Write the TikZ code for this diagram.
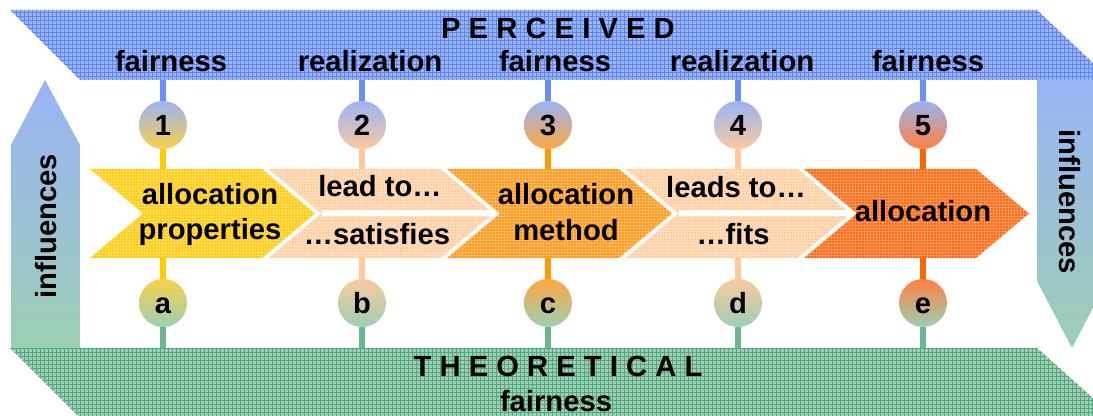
\documentclass[tikz,border=0pt]{standalone}
\usepackage{fontspec}
\setmainfont{Liberation Sans}
\definecolor{blueF}{HTML}{9BB5F6}
\definecolor{blueL}{HTML}{5F85F2}
\definecolor{blueC}{HTML}{6A8EF5}
\definecolor{blueA}{HTML}{9AB3F6}
\definecolor{greenF}{HTML}{9DCFB3}
\definecolor{greenL}{HTML}{55A680}
\definecolor{greenC}{HTML}{6CB690}
\definecolor{greenA}{HTML}{9CCFB4}
\definecolor{cyel}{HTML}{FFCC11}
\definecolor{cpeach}{HTML}{FFCFA2}
\definecolor{corange}{HTML}{FF9A1A}
\definecolor{cdark}{HTML}{FF6A12}
\definecolor{lyel}{HTML}{FFCC00}
\definecolor{lpeach}{HTML}{FFC999}
\definecolor{lorange}{HTML}{FF9900}
\definecolor{ldark}{HTML}{FF6600}
\definecolor{byel}{HTML}{FAD04A}
\definecolor{bpeach}{HTML}{FCC9A0}
\definecolor{borange}{HTML}{FFA840}
\definecolor{bdark}{HTML}{FF8040}
\begin{document}
\begin{tikzpicture}[x=0.5pt,y=-0.5pt,
  lbl/.style={font=\fontsize{14.6}{17.5}\selectfont\bfseries, inner sep=0pt, anchor=base},
  num/.style={circle, minimum size=24pt, inner sep=0pt, text height=10.5pt, text depth=0pt,
    font=\fontsize{14.6}{17.5}\selectfont\bfseries},
  bandline/.style={line width=0.38pt},
  chevgrid/.style={white, opacity=0.3, line width=0.3pt, step=1.5pt},
  upconn/.style={line width=2.6pt, blueC},
  downconn/.style={line width=2.6pt, greenC},
  midconn/.style={line width=2.6pt}
]
\useasboundingbox (0,0) rectangle (1093,416);

% ---- top band (PERCEIVED)
\begin{scope}
  \clip (10,10) -- (1037,10) -- (1111,80) -- (80,80) -- cycle;
  \fill[blueF] (0,0) rectangle (1120,82);
  \draw[blueL, bandline, step=2pt] (0,82) grid (1120,6);
\end{scope}

% ---- bottom band (THEORETICAL)
\begin{scope}
  \clip (10,348) -- (1037,348) -- (1115,418) -- (80,418) -- cycle;
  \fill[greenF] (0,346) rectangle (1120,420);
  \draw[greenL, bandline, step=2pt] (0,420) grid (1120,346);
\end{scope}

% ---- side arrows
\shade[top color=blueA, bottom color=greenA]
  (11,348) -- (11,145) -- (45,80) -- (80,145) -- (80,348) -- cycle;
\shade[top color=blueA, bottom color=greenA]
  (1037,80) -- (1107,80) -- (1107,281) -- (1072,348) -- (1037,281) -- cycle;
\node[lbl, anchor=center, rotate=90] (infl) at (46,226) {influences};
\node[lbl, anchor=center, rotate=-90] (infr) at (1070,202) {influences};

% ---- band texts
\node[lbl] (perc) at (558,39) {P E R C E I V E D};
\node[lbl] (theo) at (558,377) {T H E O R E T I C A L};
\node[lbl] (tfair) at (556,412) {fairness};
\node[lbl] (p1) at (171,72) {fairness};
\node[lbl] (p2) at (370,72) {realization};
\node[lbl] (p3) at (555,72) {fairness};
\node[lbl] (p4) at (742,72) {realization};
\node[lbl] (p5) at (928,72) {fairness};

% ---- anchor coordinates
\foreach \i/\x in {1/163,2/362,3/548,4/738,5/923}{
  \coordinate (t\i) at (\x,80);
  \coordinate (k\i) at (\x,169);
  \coordinate (m\i) at (\x,258);
  \coordinate (b\i) at (\x,348);
}

% ---- chevrons
\foreach \x/\c in {90/cyel,268.5/cpeach,447/corange,625.5/cpeach,804/cdark}{
  \begin{scope}
    \clip (\x,169) -- ++(172,0) -- ++(53,44.5) -- ++(-53,44.5) -- ++(-172,0) -- ++(53,-44.5) -- cycle;
    \fill[\c] (\x-5,165) rectangle (\x+230,262);
    \draw[chevgrid] (\x-5,262) grid (\x+230,165);
  \end{scope}
}
% split lines of chevrons 2 and 4
\draw[white, line width=2.8pt] (321.5,213) -- (493.5,213);
\draw[white, line width=2.8pt] (678.5,213) -- (850.5,213);

% ---- circles
\node[num, top color=blueA, bottom color=byel] (c1) at (163,125) {1};
\node[num, top color=blueA, bottom color=bpeach] (c2) at (362,125) {2};
\node[num, top color=blueA, bottom color=borange] (c3) at (548,125) {3};
\node[num, top color=blueA, bottom color=bpeach] (c4) at (738,125) {4};
\node[num, top color=blueA, bottom color=bdark] (c5) at (923,125) {5};
\node[num, top color=byel, bottom color=greenA] (ca) at (163,303) {a};
\node[num, top color=bpeach, bottom color=greenA] (cb) at (362,303) {b};
\node[num, top color=borange, bottom color=greenA] (cc) at (548,303) {c};
\node[num, top color=bpeach, bottom color=greenA] (cd) at (738,303) {d};
\node[num, top color=bdark, bottom color=greenA] (ce) at (923,303) {e};

% ---- connectors
\foreach \i/\j/\lc in {1/a/lyel,2/b/lpeach,3/c/lorange,4/d/lpeach,5/e/ldark}{
  \draw[upconn] (t\i) -- (c\i.north);
  \draw[midconn, \lc] (c\i.south) -- (k\i);
  \draw[midconn, \lc] (m\i) -- (c\j.north);
  \draw[downconn] (c\j.south) -- (b\i);
}

% ---- chevron texts
\node[lbl] (a1) at (210,205) {allocation};
\node[lbl] (a2) at (210,240) {properties};
\node[lbl] (l1) at (380,197) {lead to…};
\node[lbl] (l2) at (377,245) {…satisfies};
\node[lbl] (m1) at (566,205) {allocation};
\node[lbl] (m2) at (566,241) {method};
\node[lbl] (f1) at (736,198) {leads to…};
\node[lbl] (f2) at (733,245) {…fits};
\node[lbl] (al) at (923,222) {allocation};
\end{tikzpicture}
\end{document}
